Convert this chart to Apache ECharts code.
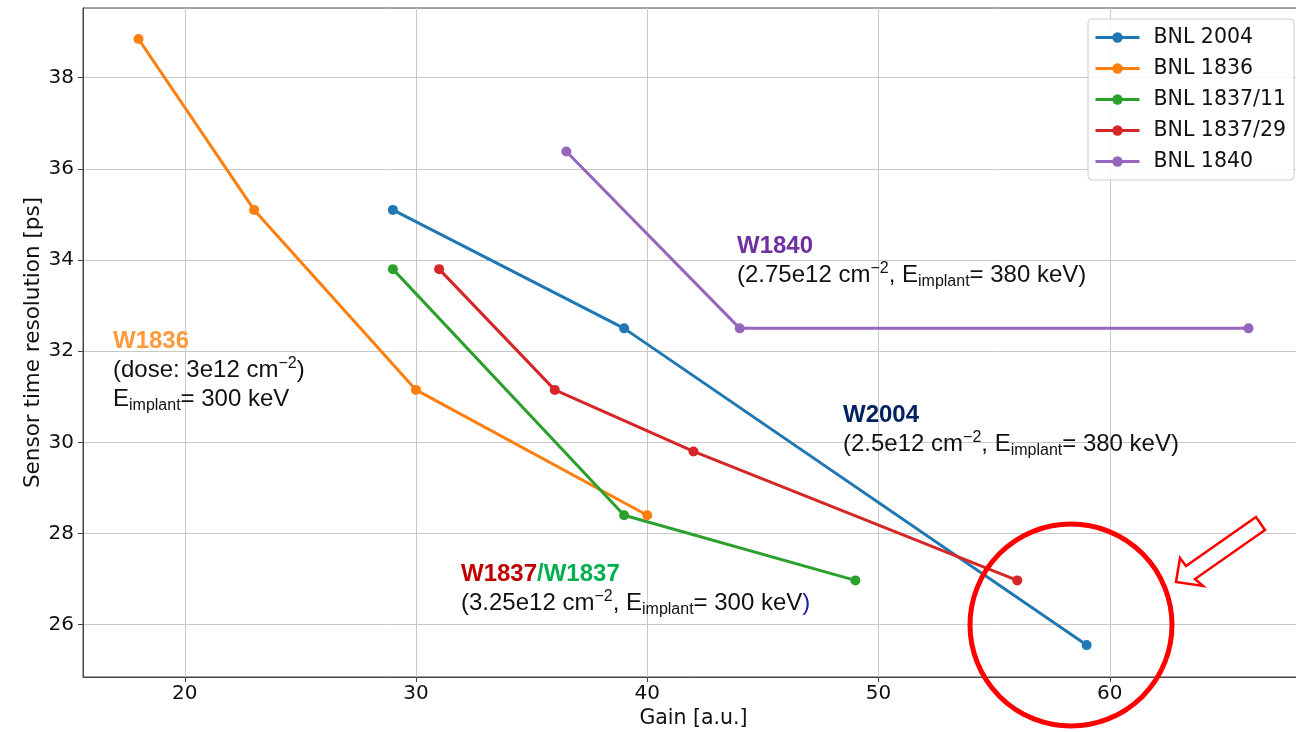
<!DOCTYPE html>
<html>
<head>
<meta charset="utf-8">
<script src="https://cdn.jsdelivr.net/npm/echarts@6/dist/echarts.min.js"></script>
<style>
	html, body { margin: 0; padding: 0; background: #fff; }
	#chart { width: 1296px; height: 732px; }
</style>
</head>
<body>
<div id="chart"></div>
<script>
	// series names and colours
	const names = ["BNL 2004", "BNL 1836", "BNL 1837/11", "BNL 1837/29", "BNL 1840"];
	const colors = ["#1f77b4", "#ff7f0e", "#2ca02c", "#d62728", "#9467bd"];
	// gain [a.u.] per series
	const gain2004 = [29, 39, 59];
	const gain1836 = [18, 23, 30, 40];
	const gain1837a = [29, 39, 49];
	const gain1837b = [31, 36, 42, 56];
	const gain1840 = [36.5, 44, 66];
	// time resolution [ps] per series
	const res2004 = [35.1, 32.5, 25.55];
	const res1836 = [38.85, 35.1, 31.15, 28.4];
	const res1837a = [33.8, 28.4, 26.97];
	const res1837b = [33.8, 31.15, 29.8, 26.97];
	const res1840 = [36.38, 32.5, 32.5];
	// tick labels
	const xTicks = [20, 30, 40, 50, 60];
	const yTicks = [26, 28, 30, 32, 34, 36, 38];

	const gains = [gain2004, gain1836, gain1837a, gain1837b, gain1840];
	const resolutions = [res2004, res1836, res1837a, res1837b, res1840];

	const F = "Liberation Sans";
	const txt = {
		n: { fontSize: 24, fontFamily: F, fill: "#111", lineHeight: 29 },
		sup: { fontSize: 16, fontFamily: F, fill: "#111", lineHeight: 18, verticalAlign: "top" },
		sub: { fontSize: 16, fontFamily: F, fill: "#111", lineHeight: 12, verticalAlign: "bottom" },
		or: { fontSize: 24, fontFamily: F, fontWeight: "bold", fill: "#ff9a3c", lineHeight: 29 },
		pu: { fontSize: 24, fontFamily: F, fontWeight: "bold", fill: "#7030a0", lineHeight: 29 },
		nv: { fontSize: 24, fontFamily: F, fontWeight: "bold", fill: "#002060", lineHeight: 29 },
		rd: { fontSize: 24, fontFamily: F, fontWeight: "bold", fill: "#c00000", lineHeight: 29 },
		gr: { fontSize: 24, fontFamily: F, fontWeight: "bold", fill: "#00b050", lineHeight: 29 },
		bl: { fontSize: 24, fontFamily: F, fill: "#1a1aa6", lineHeight: 29 }
	};

	function note(left, top, text){
		return { type: "text", left: left, top: top, z: 100, style: { text: text, rich: txt } };
	}

	const chart = echarts.init(document.getElementById("chart"));
	const option = {
		animation: false,
		grid: { left: 83, top: 8, right: -8, bottom: 55, outerBoundsMode: "none", show: true, borderColor: "#444", borderWidth: 1 },
		legend: {
			orient: "vertical", right: 2, top: 19,
			padding: [8, 8, 8, 6],
			itemWidth: 44, itemHeight: 13, itemGap: 10,
			backgroundColor: "rgba(255,255,255,0.85)",
			borderColor: "#cccccc", borderWidth: 1, borderRadius: 4,
			lineStyle: { width: 3 },
			textStyle: { fontFamily: "DejaVu Sans", fontSize: 20.5, color: "#111", padding: [0, 0, 0, 9] },
			data: names
		},
		xAxis: {
			type: "value", min: 15.6, max: 68.4, splitNumber: 5,
			name: "Gain [a.u.]", nameLocation: "middle", nameGap: 31, nameMoveOverlap: false,
			nameTextStyle: { fontFamily: "DejaVu Sans", fontSize: 20.5, color: "#111" },
			axisLine: { lineStyle: { color: "#444", width: 1 } },
			axisTick: { show: true, length: 5, lineStyle: { color: "#444" }, customValues: xTicks },
			axisLabel: { fontFamily: "DejaVu Sans", fontSize: 20, color: "#111", margin: 7, customValues: xTicks },
			splitLine: { show: true, lineStyle: { color: "#c8c8c8", width: 1 } }
		},
		yAxis: {
			type: "value", min: 24.85, max: 39.53, splitNumber: 7,
			name: "Sensor time resolution [ps]", nameLocation: "middle", nameGap: 39, nameMoveOverlap: false,
			nameTextStyle: { fontFamily: "DejaVu Sans", fontSize: 21.5, color: "#111" },
			axisLine: { show: true, lineStyle: { color: "#444", width: 1 } },
			axisTick: { show: true, length: 5, lineStyle: { color: "#444" }, customValues: yTicks },
			axisLabel: { fontFamily: "DejaVu Sans", fontSize: 20, color: "#111", margin: 9, customValues: yTicks },
			splitLine: { show: true, lineStyle: { color: "#c8c8c8", width: 1 } }
		},
		series: names.map((name, i) => ({
			name: name,
			type: "line",
			symbol: "circle",
			symbolSize: 10,
			color: colors[i],
			lineStyle: { width: 3 },
			data: gains[i].map((g, j) => [g, resolutions[i][j]])
		})),
		graphic: [
			note(113, 329, "{or|W1836}\n{n|(dose: 3e12 cm}{sup|−2}{n|)}\n{n|E}{sub|implant}{n|= 300 keV}"),
			note(737, 234, "{pu|W1840}\n{n|(2.75e12 cm}{sup|−2}{n|, E}{sub|implant}{n|= 380 keV)}"),
			note(843, 403, "{nv|W2004}\n{n|(2.5e12 cm}{sup|−2}{n|, E}{sub|implant}{n|= 380 keV)}"),
			note(461, 562, "{rd|W1837}{gr|/W1837}\n{n|(3.25e12 cm}{sup|−2}{n|, E}{sub|implant}{n|= 300 keV}{bl|)}"),
			{
				type: "circle", z: 110,
				shape: { cx: 1071, cy: 625, r: 101 },
				style: { fill: "none", stroke: "#ff0000", lineWidth: 5 }
			},
			{
				type: "polygon", z: 110,
				shape: { points: [[1176, 582], [1180, 558], [1186, 566], [1256, 517], [1265, 530], [1195, 579], [1203, 586]] },
				style: { fill: "#ffffff", stroke: "#ff0000", lineWidth: 2.5 }
			}
		]
	};
	chart.setOption(option);
	window.addEventListener("resize", chart.resize);
</script>
</body>
</html>
